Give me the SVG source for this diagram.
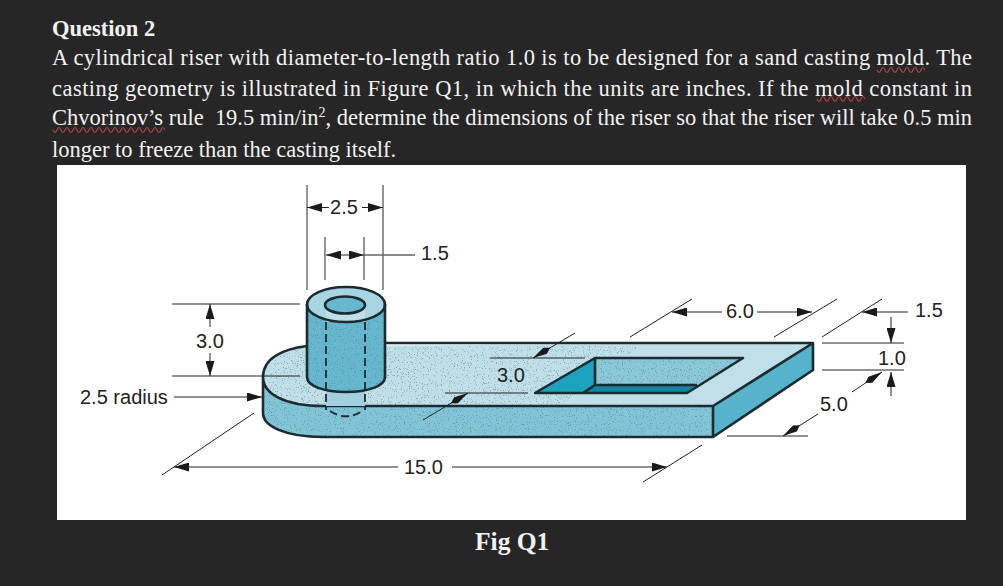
<svg xmlns="http://www.w3.org/2000/svg" width="1003" height="586" viewBox="0 0 1003 586">
<style>
.q{font-family:"Liberation Serif",serif;font-size:22.5px;fill:#f2f2f2}
.b{font-weight:bold}
.d{font-family:"Liberation Sans",Arial,sans-serif;font-size:20px;fill:#222}
.l{stroke:#222;stroke-width:1;fill:none}
.g{stroke:#666;stroke-width:1.4;fill:none}
.o{stroke:#1c2b30;stroke-width:2.6;stroke-linejoin:round;fill:none}
.da{stroke:#1c2b30;stroke-width:1.8;stroke-dasharray:8 4;fill:none}
.s{stroke:#b5474a;stroke-width:1.1;fill:none}
.t{filter:url(#st);opacity:.55}
</style>
<defs>
<marker id="a" viewBox="0 0 15 9" refX="15" refY="4.500" markerWidth="15" markerHeight="9" markerUnits="userSpaceOnUse" orient="auto-start-reverse"><path d="M0 0L15 4.500L0 9Z" fill="#1a1a1a"/></marker>
<marker id="n" viewBox="0 0 20 8" refX="20" refY="4" markerWidth="20" markerHeight="8" markerUnits="userSpaceOnUse" orient="auto-start-reverse"><path d="M0 4L6 0.500L20 4L6 7.500Z" fill="#1a1a1a"/></marker>
<filter id="st" x="0" y="0" width="1" height="1"><feTurbulence type="fractalNoise" baseFrequency="0.85" numOctaves="2" seed="4"/><feColorMatrix values="0 0 0 0 .1 0 0 0 0 .2 0 0 0 0 .25 0 0 0 7 -4.200"/><feComposite in2="SourceGraphic" operator="in"/></filter>
</defs>
<rect width="1003" height="586" fill="#262626"/>
<rect x="57" y="165" width="909" height="355" fill="#fff"/>
<g id="question">
<text class="q b" x="52" y="36">Question 2</text>
<text class="q" x="52" y="65" textLength="920">A cylindrical riser with diameter-to-length ratio 1.0 is to be designed for a sand casting mold. The</text>
<text class="q" x="52" y="96" textLength="920">casting geometry is illustrated in Figure Q1, in which the units are inches. If the mold constant in</text>
<text class="q" x="52" y="125" xml:space="preserve" textLength="920">Chvorinov’s rule  19.5 min/in<tspan dy="-8" style="font-size:14px">2</tspan><tspan dy="8">, determine the dimensions of the riser so that the riser will take 0.5 min</tspan></text>
<text class="q" x="52" y="157">longer to freeze than the casting itself.</text>
<path class="s" d="M877 70q2 5 4 0t4 0 4 0 4 0 4 0 4 0 4 0 4 0 4 0 4 0 4 0 4 0"/>
<path class="s" d="M817 99q2 5 4 0t4 0 4 0 4 0 4 0 4 0 4 0 4 0 4 0 4 0 4 0 4 0"/>
<path class="s" d="M53 130q2 5 4 0t4 0 4 0 4 0 4 0 4 0 4 0 4 0 4 0 4 0 4 0 4 0 4 0 4 0 4 0 4 0 4 0 4 0 4 0 4 0 4 0 4 0 4 0 4 0 4 0 4 0 4 0 4 0"/>
</g>
<g id="plate">
<path d="M263 377C263 358 283 349 307 346L813 343L713 406H323C285 406 263 394 263 377Z" fill="#bfe0e9"/>
<path d="M263 377C263 394 285 406 323 406H713V437H323C285 437 263 426 263 413Z" fill="#82c5d7"/>
<path d="M713 406L813 343V370L713 437Z" fill="#56b3c9"/>
<path class="t" d="M263 377C263 358 283 349 307 346H640L560 406H323C285 406 263 394 263 377ZM263 377C263 394 285 406 323 406H713V437H323C285 437 263 426 263 413Z"/>
<path class="o" d="M307 346C283 349 263 358 263 377C263 394 285 406 323 406H713L813 343H385M263 377V413C263 426 285 437 323 437H713L813 370V343M713 406V437"/>
</g>
<g id="pocket">
<path d="M595 358H743L697 385H595Z" fill="#8bc9d9"/>
<path class="t" d="M595 358H743L697 385H595Z"/>
<path d="M535 393L595 358V385L583 393Z" fill="#1ba3bd"/>
<path d="M595 385H697L687 393H583Z" fill="#0f86a3"/>
<path class="o" d="M595 358H743L687 393H535ZM595 358V385H697M595 385L583 393"/>
</g>
<g id="riser">
<path d="M326 380H365V406H326Z" fill="#a3d0dc"/>
<path d="M307 304V377C307 386 324 392 346 392C368 392 385 386 385 377V304Z" fill="#66b8cf"/>
<path class="t" d="M307 304V377C307 386 324 392 346 392C368 392 385 386 385 377V304Z"/>
<ellipse cx="346" cy="304.500" rx="39" ry="17.500" fill="#a7d6e2"/>
<path d="M326 305V322H365V305Z" fill="#bfe0e9"/>
<ellipse cx="345" cy="305" rx="20" ry="8.500" fill="#66b8cf"/>
<path class="o" d="M307 304V377C307 386 324 392 346 392C368 392 385 386 385 377V304"/>
<ellipse class="o" cx="346" cy="304.500" rx="39" ry="17.500"/>
<ellipse class="o" cx="345" cy="305" rx="20" ry="8.500"/>
<path class="da" d="M326 322V410M365 322V410M330 411C340 418 352 418 362 411"/>
</g>
<g id="connectors">
<path class="g" d="M307 185V290M383 185V290M325 237V280M364 237V280M364 255H415"/>
<path class="l" d="M307 207.500H329" marker-start="url(#a)"/>
<path class="l" d="M362 207.500H383" marker-end="url(#a)"/>
<path class="l" d="M326 255H364" marker-start="url(#a)" marker-end="url(#a)"/>
<path class="l" d="M172 304H300M172 376H300"/>
<path class="l" d="M210 304V327" marker-start="url(#a)"/>
<path class="l" d="M210 353V376" marker-end="url(#a)"/>
<path class="l" d="M174 397H262" marker-end="url(#a)"/>
<path class="l" d="M254 413L162 475M643 482L702 445M630 337L692 299M774 337L837 299M822 337L882 299"/>
<path class="l" d="M174 467H398" marker-start="url(#a)"/>
<path class="l" d="M452 467H667" marker-end="url(#a)"/>
<path class="l" d="M672 312H722" marker-start="url(#a)"/>
<path class="l" d="M757 312H812" marker-end="url(#a)"/>
<path class="l" d="M862 312H908" marker-start="url(#a)"/>
<path class="l" d="M822 343H904M822 370H904M727 436H808"/>
<path class="l" d="M891 317V343" marker-end="url(#a)"/>
<path class="l" d="M891 396V372" marker-end="url(#a)"/>
<path class="l" d="M852 392L882 372" marker-end="url(#n)"/>
<path class="l" d="M818 414L783 436" marker-end="url(#n)"/>
<path class="l" d="M490 358H585M445 393H528"/>
<path class="l" d="M575 333L533 358" marker-end="url(#n)"/>
<path class="l" d="M423 420L468 393" marker-end="url(#n)"/>
</g>
<g id="labels">
<text class="d" x="344" y="214" text-anchor="middle">2.5</text>
<text class="d" x="421" y="260">1.5</text>
<text class="d" x="196" y="348">3.0</text>
<text class="d" x="80" y="404">2.5 radius</text>
<text class="d" x="404" y="474">15.0</text>
<text class="d" x="497" y="382">3.0</text>
<text class="d" x="726" y="318">6.0</text>
<text class="d" x="915" y="317">1.5</text>
<text class="d" x="878" y="365">1.0</text>
<text class="d" x="820" y="411">5.0</text>
</g>
<text class="q b" x="475" y="550" style="font-size:25.500px">Fig Q1</text>
</svg>
